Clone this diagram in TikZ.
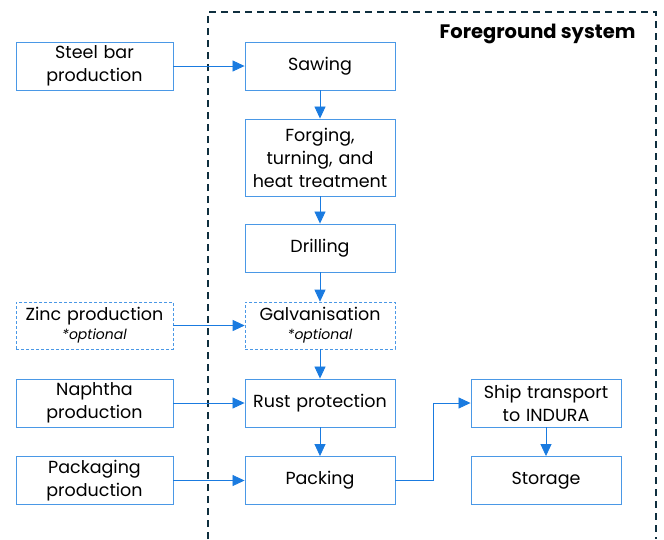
\documentclass[tikz,border=0pt]{standalone}
\usepackage{fontspec}
\setmainfont{Poppins}
\usetikzlibrary{arrows.meta}
\definecolor{boxblue}{HTML}{4A98E6}
\definecolor{arrowblue}{HTML}{1A7BE0}
\definecolor{framenavy}{HTML}{0F2F3F}

\begin{document}
\begin{tikzpicture}[
    x=1pt, y=-1pt,
    font=\fontsize{17.5}{23}\selectfont,
    process/.style={draw=boxblue, line width=0.9pt, align=center, inner sep=0pt, minimum height=48pt, text width=150pt, minimum width=150pt},
    source/.style={process, text width=157pt, minimum width=157pt},
    optbox/.style={densely dashed, line width=0.6pt},
    flow/.style={draw=arrowblue, line width=0.8pt, -{Triangle[length=12pt, width=11pt]}}
]
\useasboundingbox (0,0) rectangle (664,539);

% Foreground system frame
\draw[framenavy, line width=2.2pt, dash pattern=on 7pt off 5pt] (208,539) -- (208,12) -- (656,12) -- (656,539);
\node[anchor=base east, font=\fontsize{19.5}{20}\selectfont\bfseries] (title) at (639,38) {Foreground system};

% Background processes
\node[source] (steel) at (94.5,66) {Steel bar\\production};
\node[source, optbox, minimum height=47pt] (zinc) at (94.5,325.5) {Zinc production\\[-4pt]{\fontsize{14}{14}\selectfont\itshape *optional}};
\node[source] (naphtha) at (94.5,403) {Naphtha\\production};
\node[source] (packaging) at (94.5,480.5) {Packaging\\production};

% Foreground processes
\node[process] (sawing) at (320,66) {Sawing};
\node[process, minimum height=77pt] (forging) at (320,157.5) {Forging,\\turning, and\\heat treatment};
\node[process] (drilling) at (320,248) {Drilling};
\node[process, optbox, minimum height=47pt] (galv) at (320,325.5) {Galvanisation\\[-4pt]{\fontsize{14}{14}\selectfont\itshape *optional}};
\node[process] (rust) at (320,403) {Rust protection};
\node[process] (packing) at (320,480.5) {Packing};
\node[process] (ship) at (546,403) {Ship transport\\to INDURA};
\node[process] (storage) at (546,480.5) {Storage};

% Draw flows
\foreach \u/\v in {steel/sawing, zinc/galv, naphtha/rust, packaging/packing} {
    \draw[flow] (\u) -- (\v);
}
\foreach \u/\v in {sawing/forging, forging/drilling, drilling/galv, galv/rust, rust/packing, ship/storage} {
    \draw[flow] (\u) -- (\v);
}
\draw[flow] (packing.east) -- ++(38,0) |- (ship.west);

\end{tikzpicture}
\end{document}
